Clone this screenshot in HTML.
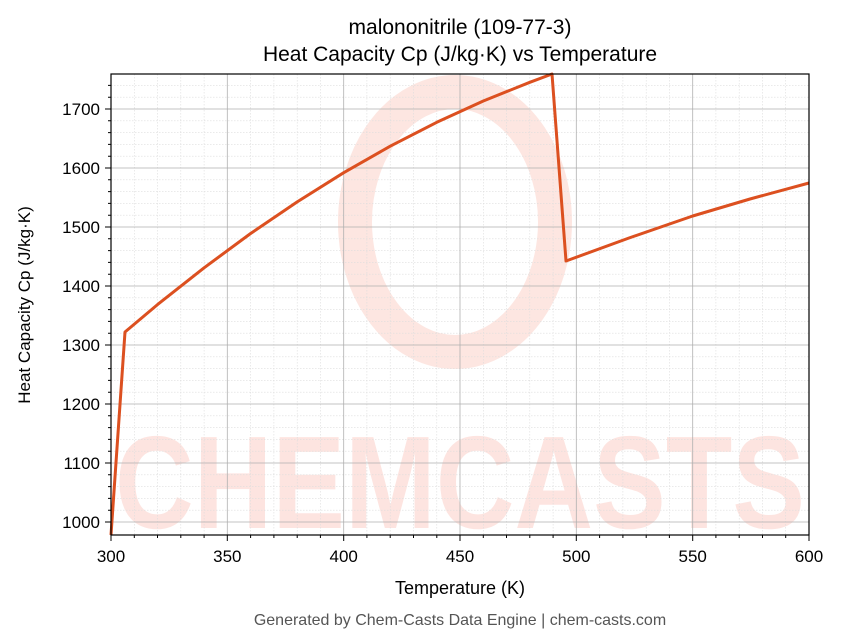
<!DOCTYPE html>
<html><head><meta charset="utf-8"><style>body{margin:0;background:#fff}svg{display:block}</style></head>
<body>
<svg width="843" height="644" xmlns="http://www.w3.org/2000/svg" font-family="'Liberation Sans','DejaVu Sans',sans-serif">
<rect width="843" height="644" fill="#fff"/>
<g opacity="0.13" fill="#f03a1a">
<ellipse cx="455" cy="222" rx="100" ry="130" fill="none" stroke="#f03a1a" stroke-width="34"/>
<text x="460" y="528" font-size="132" font-weight="bold" text-anchor="middle" textLength="690" lengthAdjust="spacingAndGlyphs">CHEMCASTS</text>
</g>
<g id="grid">
<g stroke="#ddd" stroke-width="0.6" stroke-dasharray="1.5,1.5">
<path d="M134.3 74V535M157.5 74V535M180.8 74V535M204.1 74V535M250.6 74V535M273.9 74V535M297.2 74V535M320.4 74V535M366.9 74V535M390.2 74V535M413.5 74V535M436.8 74V535M483.3 74V535M506.5 74V535M529.8 74V535M553.1 74V535M599.6 74V535M622.9 74V535M646.2 74V535M669.4 74V535M715.9 74V535M739.2 74V535M762.5 74V535M785.7 74V535"/>
<path d="M111 510.2H809M111 498.4H809M111 486.6H809M111 474.8H809M111 451.2H809M111 439.4H809M111 427.6H809M111 415.8H809M111 392.2H809M111 380.4H809M111 368.6H809M111 356.8H809M111 333.2H809M111 321.4H809M111 309.6H809M111 297.8H809M111 274.2H809M111 262.4H809M111 250.6H809M111 238.8H809M111 215.2H809M111 203.4H809M111 191.6H809M111 179.8H809M111 156.2H809M111 144.4H809M111 132.6H809M111 120.8H809M111 97.2H809M111 85.4H809"/>
</g>
<g stroke="#b0b0b0" stroke-width="0.8">
<path d="M227.3 74V535M343.7 74V535M460 74V535M576.3 74V535M692.7 74V535"/>
<path d="M111 522H809M111 463H809M111 404H809M111 345H809M111 286H809M111 227H809M111 168H809M111 109H809"/>
</g>
</g>
<polyline fill="none" stroke="#dc5020" stroke-width="3" stroke-linejoin="round" points="111,535 125,332 157.5,304.6 204.1,267.8 250.6,233.5 297.2,201.9 343.7,172.7 390.2,146.2 436.8,122.3 483.3,101 529.8,82.3 552,74 566,261 629,238 692.7,216 750,199 809,183"/>
<rect x="111" y="74" width="698" height="461" fill="none" stroke="#000" stroke-width="1.2"/>
<g stroke="#000" stroke-width="1">
<path d="M111 535v6M227.3 535v6M343.7 535v6M460 535v6M576.3 535v6M692.7 535v6M809 535v6"/>
<path d="M134.3 535v3M157.5 535v3M180.8 535v3M204.1 535v3M250.6 535v3M273.9 535v3M297.2 535v3M320.4 535v3M366.9 535v3M390.2 535v3M413.5 535v3M436.8 535v3M483.3 535v3M506.5 535v3M529.8 535v3M553.1 535v3M599.6 535v3M622.9 535v3M646.2 535v3M669.4 535v3M715.9 535v3M739.2 535v3M762.5 535v3M785.7 535v3"/>
<path d="M111 522h-6M111 463h-6M111 404h-6M111 345h-6M111 286h-6M111 227h-6M111 168h-6M111 109h-6"/>
<path d="M111 510.2h-3M111 498.4h-3M111 486.6h-3M111 474.8h-3M111 451.2h-3M111 439.4h-3M111 427.6h-3M111 415.8h-3M111 392.2h-3M111 380.4h-3M111 368.6h-3M111 356.8h-3M111 333.2h-3M111 321.4h-3M111 309.6h-3M111 297.8h-3M111 274.2h-3M111 262.4h-3M111 250.6h-3M111 238.8h-3M111 215.2h-3M111 203.4h-3M111 191.6h-3M111 179.8h-3M111 156.2h-3M111 144.4h-3M111 132.6h-3M111 120.8h-3M111 97.2h-3M111 85.4h-3"/>
</g>
<g font-size="17" text-anchor="middle" fill="#000">
<text x="111" y="562">300</text><text x="227.3" y="562">350</text><text x="343.7" y="562">400</text><text x="460" y="562">450</text><text x="576.3" y="562">500</text><text x="692.7" y="562">550</text><text x="809" y="562">600</text>
</g>
<g font-size="17" text-anchor="end" fill="#000">
<text x="100" y="528">1000</text><text x="100" y="469">1100</text><text x="100" y="410">1200</text><text x="100" y="351">1300</text><text x="100" y="292">1400</text><text x="100" y="233">1500</text><text x="100" y="174">1600</text><text x="100" y="115">1700</text>
</g>
<text x="460" y="594" font-size="18" text-anchor="middle">Temperature (K)</text>
<text transform="translate(30,305) rotate(-90)" font-size="17" text-anchor="middle">Heat Capacity Cp (J/kg·K)</text>
<text x="460" y="34" font-size="21" text-anchor="middle">malononitrile (109-77-3)</text>
<text x="460" y="61" font-size="21" text-anchor="middle">Heat Capacity Cp (J/kg·K) vs Temperature</text>
<text x="460" y="625" font-size="16" fill="#555" text-anchor="middle">Generated by Chem-Casts Data Engine | chem-casts.com</text>
</svg>
</body></html>
